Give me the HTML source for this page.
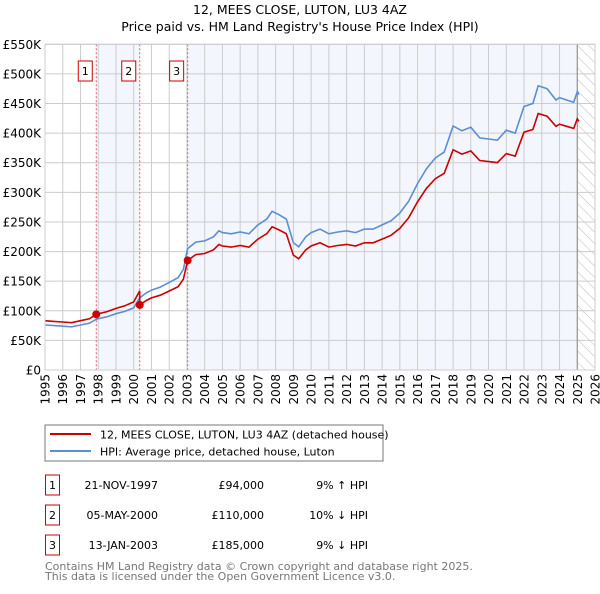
<!DOCTYPE html>
<html><head><meta charset="utf-8"><style>
body{margin:0;background:#fff;width:600px;height:590px;overflow:hidden;font-family:"DejaVu Sans","Liberation Sans",sans-serif}
svg text{font-family:"DejaVu Sans","Liberation Sans",sans-serif}
</style></head><body>
<svg id="c" width="600" height="590">
<defs><pattern id="hatch" width="8" height="8" patternUnits="userSpaceOnUse" patternTransform="rotate(-45)"><line x1="0" y1="0" x2="0" y2="8" stroke="#bbb" stroke-width="1"/></pattern></defs>
<text x="300" y="14" text-anchor="middle" font-size="12.5">12, MEES CLOSE, LUTON, LU3 4AZ</text>
<text x="300" y="31" text-anchor="middle" font-size="12.5">Price paid vs. HM Land Registry's House Price Index (HPI)</text>
<g id="plot"></g>
<rect x="45" y="425" width="338" height="36" fill="#fff" stroke="#777"/>
<line x1="50" y1="434" x2="91" y2="434" stroke="#cc0000" stroke-width="2"/>
<text x="100" y="438.5" font-size="11">12, MEES CLOSE, LUTON, LU3 4AZ (detached house)</text>
<line x1="50" y1="451" x2="91" y2="451" stroke="#5b8fd4" stroke-width="2"/>
<text x="100" y="455.5" font-size="11">HPI: Average price, detached house, Luton</text>
<g id="table" font-size="11"></g>
<text x="45" y="570" font-size="11" fill="#777">Contains HM Land Registry data © Crown copyright and database right 2025.</text>
<text x="45" y="580" font-size="11" fill="#777">This data is licensed under the Open Government Licence v3.0.</text>
</svg>
<script>
const hpiYears=[1995,1995.5,1996,1996.5,1997,1997.5,1997.9,1998.5,1999,1999.5,2000,2000.34,2000.7,2001,2001.5,2002,2002.5,2002.8,2003.04,2003.5,2004,2004.5,2004.8,2005,2005.5,2006,2006.5,2007,2007.5,2007.8,2008.2,2008.6,2008.8,2009,2009.3,2009.7,2010,2010.5,2011,2011.5,2012,2012.5,2013,2013.5,2014,2014.5,2015,2015.5,2016,2016.5,2017,2017.5,2018,2018.5,2019,2019.5,2020,2020.5,2021,2021.5,2022,2022.5,2022.8,2023.3,2023.8,2024,2024.5,2024.8,2025,2025.1];
const hpiValues=[76,75,74,73,76,79,86,90,95,99,105,122,130,135,140,148,156,170,205,216,218,225,235,232,230,233,230,245,255,268,262,255,235,215,208,225,232,238,230,233,235,232,238,238,245,252,265,285,315,340,358,368,412,404,410,392,390,388,405,400,445,450,480,475,456,460,455,452,470,465];
const saleYears=[1997.89,2000.34,2003.04];
const salePrices=[94,110,185];
const saleLabels=["1","2","3"];
const saleDates=["21-NOV-1997","05-MAY-2000","13-JAN-2003"];
const salePriceText=["£94,000","£110,000","£185,000"];
const saleDiff=["9% ↑ HPI","10% ↓ HPI","9% ↓ HPI"];
const yTicks=[0,50,100,150,200,250,300,350,400,450,500,550];
const yTickLabels=["£0","£50K","£100K","£150K","£200K","£250K","£300K","£350K","£400K","£450K","£500K","£550K"];
const xTicks=[1995,1996,1997,1998,1999,2000,2001,2002,2003,2004,2005,2006,2007,2008,2009,2010,2011,2012,2013,2014,2015,2016,2017,2018,2019,2020,2021,2022,2023,2024,2025,2026];

const NS="http://www.w3.org/2000/svg";
const L=45,R=595,T=44.3,B=370;
const X=y=>L+(y-1995)/(2026-1995)*(R-L);
const Y=v=>B-v/550*(B-T);
function mk(tag,attrs,parent){const e=document.createElementNS(NS,tag);for(const k in attrs)e.setAttribute(k,attrs[k]);parent.appendChild(e);return e;}
function hpiAt(t){for(let i=0;i<hpiYears.length-1;i++){if(t>=hpiYears[i]&&t<=hpiYears[i+1]){const f=(t-hpiYears[i])/(hpiYears[i+1]-hpiYears[i]);return hpiValues[i]+f*(hpiValues[i+1]-hpiValues[i]);}}return hpiValues[hpiValues.length-1];}
const g=document.getElementById('plot');
let e;
e=mk('rect',{x:L,y:T,width:R-L,height:B-T,fill:'#fff'},g);


e=mk('rect',{x:X(saleYears[0]),y:T,width:X(saleYears[1])-X(saleYears[0]),height:B-T,fill:'#f3f6fd'},g);


e=mk('rect',{x:X(saleYears[2]),y:T,width:X(2025)-X(saleYears[2]),height:B-T,fill:'#f3f6fd'},g);


e=mk('rect',{x:X(2025),y:T,width:R-X(2025),height:B-T,fill:'url(#hatch)'},g);


yTicks.forEach((v,i)=>{
 e=mk('line',{x1:L,x2:R,y1:Y(v),y2:Y(v),stroke:'#ccc','stroke-width':1},g);
 
 
 e=mk('text',{x:L-4,y:Y(v)+4.5,'text-anchor':'end','font-size':'12'},g);
 e.textContent=yTickLabels[i];
 
 
});
xTicks.forEach(yr=>{
 e=mk('line',{x1:X(yr),x2:X(yr),y1:T,y2:B,stroke:'#ccc','stroke-width':1},g);
 
 
 e=mk('text',{x:0,y:0,'text-anchor':'end','font-size':'12',transform:`translate(${X(yr)+4.5},374) rotate(-90)`},g);
 e.textContent=yr;
 
 
});
e=mk('line',{x1:X(2025),x2:X(2025),y1:T,y2:B,stroke:'#888','stroke-width':1},g);


saleYears.forEach((s,i)=>{
 e=mk('line',{x1:X(s),x2:X(s),y1:T,y2:B,stroke:'#e06060','stroke-width':1,'stroke-dasharray':'2,2'},g);
 
 
 e=mk('rect',{x:X(s)-18,y:61,width:14,height:20,fill:'#fff',stroke:'#cc0000'},g);
 
 
 e=mk('text',{x:X(s)-11,y:75,'text-anchor':'middle','font-size':'11'},g);
 e.textContent=saleLabels[i];
 
 
});
let hp='';
hpiYears.forEach((t,i)=>{hp+=(i?'L':'M')+X(t).toFixed(1)+','+Y(hpiValues[i]).toFixed(1);});
e=mk('path',{d:hp,fill:'none',stroke:'#5b8fd4','stroke-width':1.6},g);


let rp='';
hpiYears.forEach((t,i)=>{
 let k=0;for(let j=0;j<saleYears.length;j++){if(t>=saleYears[j])k=j;}
 const v=salePrices[k]*hpiValues[i]/hpiAt(saleYears[k]);
 rp+=(i?'L':'M')+X(t).toFixed(1)+','+Y(v).toFixed(1);
 if(i<hpiYears.length-1){for(let j=0;j<saleYears.length;j++){const s=saleYears[j];if(s>t&&s<=hpiYears[i+1]){const vb=salePrices[k]*hpiAt(s)/hpiAt(saleYears[k]);rp+='L'+X(s).toFixed(1)+','+Y(vb).toFixed(1)+'L'+X(s).toFixed(1)+','+Y(salePrices[j]).toFixed(1);k=j;}}}
});
e=mk('path',{d:rp,fill:'none',stroke:'#cc0000','stroke-width':1.6},g);


saleYears.forEach((s,i)=>{
 e=mk('circle',{cx:X(s),cy:Y(salePrices[i]),r:4,fill:'#cc0000'},g);
 
 
});
e=mk('rect',{x:L,y:T,width:R-L,height:B-T,fill:'none',stroke:'#ccc'},g);


const tb=document.getElementById('table');
saleYears.forEach((s,i)=>{
 const y=485+i*30;
 e=mk('rect',{x:45.5,y:y-10,width:14,height:20,fill:'#fff',stroke:'#cc0000'},tb);
 
 
 e=mk('text',{x:52.5,y:y+4,'text-anchor':'middle'},tb);
 e.textContent=saleLabels[i];
 
 
 e=mk('text',{x:158,y:y+4,'text-anchor':'end'},tb);
 e.textContent=saleDates[i];
 
 
 e=mk('text',{x:264,y:y+4,'text-anchor':'end'},tb);
 e.textContent=salePriceText[i];
 
 
 e=mk('text',{x:368,y:y+4,'text-anchor':'end'},tb);
 e.textContent=saleDiff[i];
 
 
});
</script>
</body></html>
